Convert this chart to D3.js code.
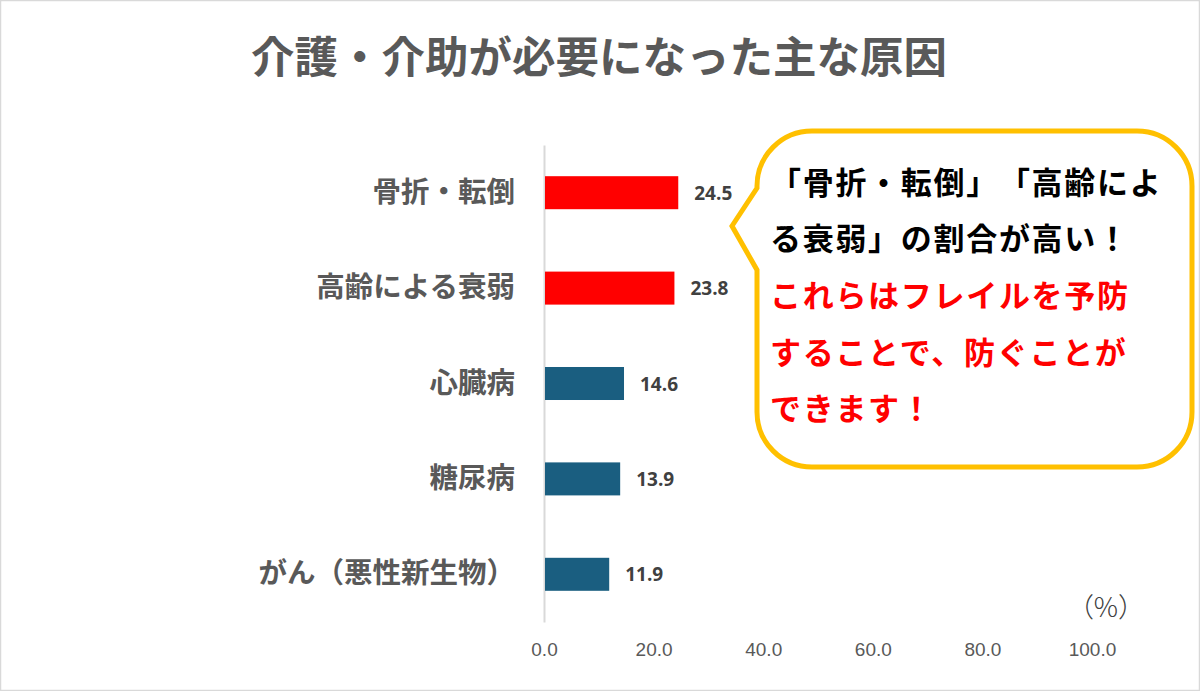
<!DOCTYPE html>
<html>
<head>
<meta charset="utf-8">
<script src="https://cdn.jsdelivr.net/npm/d3@7"></script>
<style>
  body { margin: 0; background: #fff; }
  svg { display: block; }
  text { text-spacing-trim: space-all; }
</style>
</head>
<body>
<svg id="chart" width="1200" height="691"></svg>
<script>
const title = '介護・介助が必要になった主な原因'
const categories = ['骨折・転倒', '高齢による衰弱', '心臓病', '糖尿病', 'がん（悪性新生物）']
const values = [24.5, 23.8, 14.6, 13.9, 11.9]
const highlighted = ['骨折・転倒', '高齢による衰弱']
const xTicks = [0, 20, 40, 60, 80, 100]
const unitLabel = '（%）'
const noteBlack = ['「骨折・転倒」「高齢によ', 'る衰弱」の割合が高い！']
const noteRed = ['これらはフレイルを予防', 'することで、防ぐことが', 'できます！']

const svg = d3.select('#chart')
const jp = '"Noto Sans CJK JP", "Noto Sans", sans-serif'

// outer frame
svg.append('rect')
  .attr('x', 0.5).attr('y', 0.5)
  .attr('width', 1199).attr('height', 690)
  .attr('fill', '#fff')
  .attr('stroke', '#d9d9d9')
  .attr('stroke-width', 1.5)

svg.append('text')
  .attr('x', 599).attr('y', 54)
  .attr('text-anchor', 'middle')
  .attr('dominant-baseline', 'central')
  .attr('font-family', jp)
  .attr('font-weight', 700)
  .attr('font-size', 43.5)
  .attr('fill', '#595959')
  .text(title)

const x = d3.scaleLinear().domain([0, 100]).range([544, 1092])
const y = d3.scaleBand()
  .domain(categories)
  .range([145, 622])
  .paddingInner(0.654)
  .paddingOuter(0.327)

// x axis labels only
const xAxis = svg.append('g')
  .attr('transform', 'translate(0,650)')
  .call(d3.axisBottom(x).tickValues(xTicks).tickFormat(d3.format('.1f')).tickSize(0))
xAxis.select('.domain').remove()
xAxis.selectAll('text')
  .attr('dy', '0.32em')
  .attr('y', 0)
  .attr('font-family', '"Liberation Sans Narrow", "Liberation Sans", sans-serif')
  .attr('font-size', 19)
  .attr('fill', '#595959')

// y axis line + category labels
const yAxis = svg.append('g')
  .attr('transform', `translate(${x(0)},0)`)
  .call(d3.axisLeft(y).tickSize(0).tickPadding(29))
yAxis.select('.domain')
  .attr('stroke', '#d9d9d9')
  .attr('stroke-width', 2)
yAxis.selectAll('text')
  .attr('font-family', jp)
  .attr('font-weight', 700)
  .attr('font-size', 28.5)
  .attr('fill', '#595959')

svg.append('g')
  .selectAll('rect')
  .data(values)
  .join('rect')
  .attr('x', x(0) + 1)
  .attr('y', (d, i) => y(categories[i]))
  .attr('width', d => x(d) - x(0) - 1)
  .attr('height', y.bandwidth())
  .attr('fill', (d, i) => highlighted.includes(categories[i]) ? '#ff0000' : '#1a5e80')

svg.append('g')
  .selectAll('text')
  .data(values)
  .join('text')
  .attr('x', d => x(d) + 16)
  .attr('y', (d, i) => y(categories[i]) + y.bandwidth() / 2)
  .attr('dominant-baseline', 'central')
  .attr('font-family', '"Open Sans", "Liberation Sans", sans-serif')
  .attr('font-weight', 700)
  .attr('font-size', 19)
  .attr('fill', '#404040')
  .text(d => d.toFixed(1))

svg.append('text')
  .attr('x', 1106).attr('y', 605)
  .attr('text-anchor', 'middle')
  .attr('dominant-baseline', 'central')
  .attr('font-family', jp)
  .attr('font-weight', 300)
  .attr('font-size', 27)
  .attr('fill', '#404040')
  .text(unitLabel)

// callout bubble
const bx0 = 757, by0 = 131, bx1 = 1192, by1 = 467, r = 55
const bubble = `M ${bx0 + r},${by0} H ${bx1 - r} A ${r} ${r} 0 0 1 ${bx1},${by0 + r}
  V ${by1 - r} A ${r} ${r} 0 0 1 ${bx1 - r},${by1} H ${bx0 + r} A ${r} ${r} 0 0 1 ${bx0},${by1 - r}
  V 270 L 732,226 L ${bx0},188 V ${by0 + r} A ${r} ${r} 0 0 1 ${bx0 + r},${by0} Z`
svg.append('path')
  .attr('d', bubble)
  .attr('fill', '#fff')
  .attr('stroke', '#ffc000')
  .attr('stroke-width', 5)
  .attr('stroke-linejoin', 'miter')

const lines = noteBlack.map(t => ({ t, c: '#000' })).concat(noteRed.map(t => ({ t, c: '#ff0000' })))
svg.append('g')
  .selectAll('text')
  .data(lines)
  .join('text')
  .attr('x', 770)
  .attr('y', (d, i) => 180 + i * 56.7)
  .attr('dominant-baseline', 'central')
  .attr('font-family', jp)
  .attr('font-weight', 700)
  .attr('font-size', 31)
  .attr('letter-spacing', 1.7)
  .attr('fill', d => d.c)
  .text(d => d.t)
</script>
</body>
</html>
